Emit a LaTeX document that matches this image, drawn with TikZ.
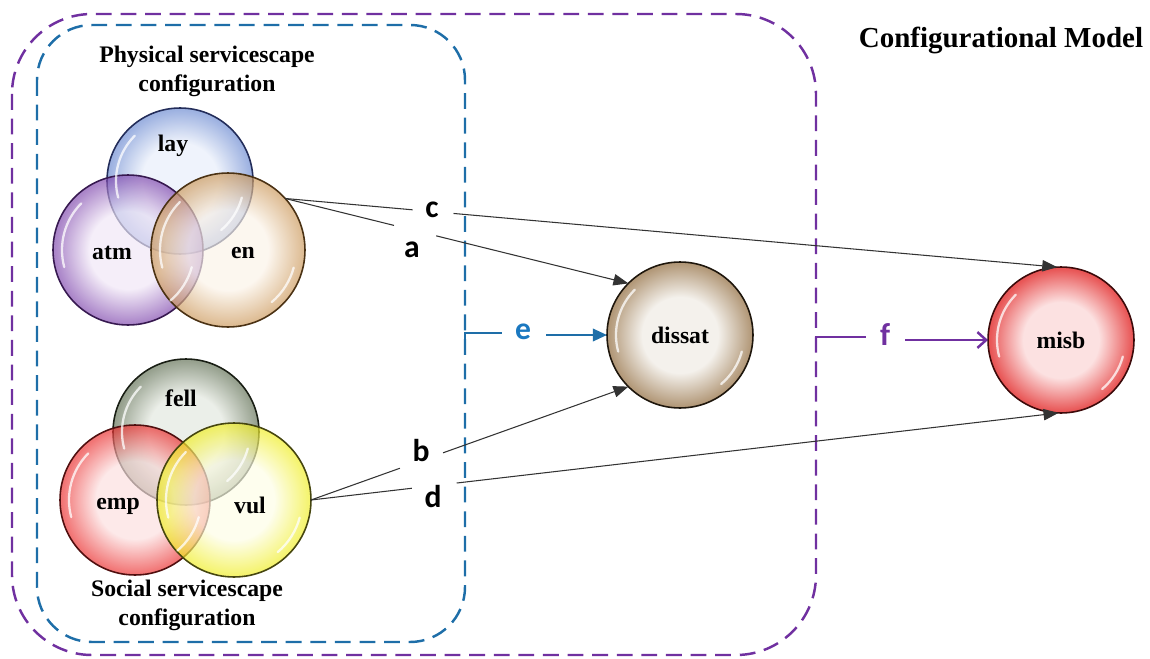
\documentclass[tikz,border=0pt]{standalone}
\usepackage{fontspec}
\setmainfont{Liberation Serif}
\newfontfamily\letterfont{Carlito}
\usetikzlibrary{arrows.meta,calc}
\makeatletter
\pgfdeclareradialshading[tikz@radial@inner,tikz@radial@outer]{glossy}{\pgfpoint{0bp}{0bp}}{color(0bp)=(tikz@radial@inner); color(13bp)=(tikz@radial@inner); color(24.5bp)=(tikz@radial@outer); color(50bp)=(tikz@radial@outer)}
\makeatother
\definecolor{boxblue}{RGB}{30,110,168}
\definecolor{boxpurple}{RGB}{112,48,160}
\definecolor{ecol}{RGB}{27,120,192}
\definecolor{layin}{RGB}{232,238,250}\definecolor{layout}{RGB}{110,140,210}\definecolor{layedge}{RGB}{35,45,90}
\definecolor{atmin}{RGB}{240,230,246}\definecolor{atmout}{RGB}{130,75,175}\definecolor{atmedge}{RGB}{55,25,80}
\definecolor{enin}{RGB}{251,243,232}\definecolor{enout}{RGB}{205,155,95}\definecolor{enedge}{RGB}{75,50,20}
\definecolor{fellin}{RGB}{226,231,222}\definecolor{fellout}{RGB}{100,115,88}\definecolor{felledge}{RGB}{25,30,20}
\definecolor{empin}{RGB}{252,222,222}\definecolor{empout}{RGB}{235,50,50}\definecolor{empedge}{RGB}{80,15,15}
\definecolor{vulin}{RGB}{253,253,230}\definecolor{vulout}{RGB}{240,238,40}\definecolor{vuledge}{RGB}{70,70,15}
\definecolor{disin}{RGB}{244,241,236}\definecolor{disout}{RGB}{178,152,120}\definecolor{disedge}{RGB}{30,22,12}
\definecolor{misin}{RGB}{252,225,225}\definecolor{misout}{RGB}{232,85,85}\definecolor{misedge}{RGB}{60,10,10}
\tikzset{
  ball/.style n args={3}{circle, inner sep=0pt, outer sep=0pt, draw=#3, line width=0.9pt,
    inner color=#1, outer color=#2, shading=glossy},
  venn/.style={fill opacity=0.68},
  vlabel/.style={font=\bfseries\fontsize{13.5}{16}\selectfont, inner sep=0pt},
  title/.style={font=\bfseries\fontsize{13.5}{16.4}\selectfont, align=center, inner sep=0pt},
  letter/.style={font=\letterfont\bfseries\fontsize{18}{20}\selectfont, inner sep=0pt},
  bluebox/.style={draw=boxblue, line width=1.4pt, dash pattern=on 9pt off 5pt, rounded corners=1.1cm},
  purplebox/.style={draw=boxpurple, line width=1.4pt, dash pattern=on 9pt off 5pt, rounded corners=1.6cm},
  conn/.style={draw=black!80, line width=0.6pt},
  tip/.style={-{Triangle[length=8.5pt,width=6.5pt]}},
  eline/.style={draw=boxblue, line width=1.4pt},
  fline/.style={draw=boxpurple, line width=1.4pt},
  shine/.style={draw=white, line width=1.3pt, opacity=0.75, line cap=round}
}
\newcommand\shine[2]{%
  \draw[shine] ($(#1.center)+(135:#2)$) arc[start angle=135, end angle=195, radius=#2];
  \draw[shine] ($(#1.center)+(-15:#2)$) arc[start angle=-15, end angle=-50, radius=#2];}
\begin{document}
\begin{tikzpicture}[x=0.02cm,y=0.02cm]
\useasboundingbox (0,0) rectangle (1150,-659);
% frames
\draw[purplebox] (12,-14) rectangle (816,-655);
\draw[bluebox] (37,-25) rectangle (465,-642);
% physical venn
\node[ball={layin}{layout}{layedge}, venn, minimum size=2.92cm] (lay) at (180,-181) {};
\node[ball={atmin}{atmout}{atmedge}, venn, minimum size=3.0cm] (atm) at (128,-250) {};
\node[ball={enin}{enout}{enedge}, venn, minimum size=3.08cm] (en) at (228,-250) {};
% social venn
\node[ball={fellin}{fellout}{felledge}, venn, minimum size=2.92cm] (fell) at (186,-432) {};
\node[ball={empin}{empout}{empedge}, venn, minimum size=3.0cm] (emp) at (135,-500) {};
\node[ball={vulin}{vulout}{vuledge}, venn, minimum size=3.08cm] (vul) at (234,-500) {};
% outcome circles
\node[ball={disin}{disout}{disedge}, minimum size=2.92cm, vlabel] (dissat) at (680,-335) {dissat};
\node[ball={misin}{misout}{misedge}, minimum size=2.92cm, vlabel] (misb) at (1061,-340) {misb};
\shine{lay}{64}\shine{atm}{66}\shine{en}{68}
\shine{fell}{64}\shine{emp}{66}\shine{vul}{68}
\shine{dissat}{64}\shine{misb}{64}
% venn labels
\node[vlabel] at (173,-146) {lay};
\node[vlabel] at (112,-253) {atm};
\node[vlabel] at (243,-253) {en};
\node[vlabel] at (181,-398) {fell};
\node[vlabel] at (118,-506) {emp};
\node[vlabel] at (250,-505) {vul};
% titles
\node[title] (phys) at (207,-71) {Physical servicescape\\configuration};
\node[title] (soc) at (187,-605) {Social servicescape\\configuration};
\node[font=\bfseries\fontsize{16.5}{20}\selectfont, inner sep=0pt] (model) at (1001,-40) {Configurational Model};
% path letters
\node[letter] (lc) at (432,-210) {c};
\node[letter] (la) at (412,-250) {a};
\node[letter] (lb) at (421,-451) {b};
\node[letter] (ld) at (433,-497) {d};
\node[letter, text=ecol] (le) at (523,-332) {e};
\node[letter, text=boxpurple] (lf) at (885,-335) {f};
% connectors
\draw[conn] (en.42) -- ($(en.42)!0.165!(misb.93)$);
\draw[conn, tip] ($(en.42)!0.218!(misb.93)$) -- (misb.93);
\draw[conn] (en.42) -- ($(en.42)!0.317!(dissat.135)$);
\draw[conn, tip] ($(en.42)!0.44!(dissat.135)$) -- (dissat.135);
\draw[conn] (vul.east) -- ($(vul.east)!0.28!(dissat.225)$);
\draw[conn, tip] ($(vul.east)!0.416!(dissat.225)$) -- (dissat.225);
\draw[conn] (vul.east) -- ($(vul.east)!0.135!(misb.268)$);
\draw[conn, tip] ($(vul.east)!0.195!(misb.268)$) -- (misb.268);
% e and f
\coordinate (e0) at (465,-348);
\coordinate (e1) at (465,-333);
\coordinate (e2) at (502,-333);
\coordinate (e3) at (546,-335);
\draw[eline] (e0) -- (e1) -- (e2);
\draw[eline, -{Triangle[length=8pt,width=7pt]}] (e3) -- (dissat.west);
\coordinate (f0) at (816,-352);
\coordinate (f1) at (816,-337);
\coordinate (f2) at (866,-337);
\coordinate (f3) at (905,-340);
\draw[fline] (f0) -- (f1) -- (f2);
\draw[fline, -{Straight Barb[length=5pt,width=9pt]}] (f3) -- (misb.west);
\end{tikzpicture}
\end{document}
